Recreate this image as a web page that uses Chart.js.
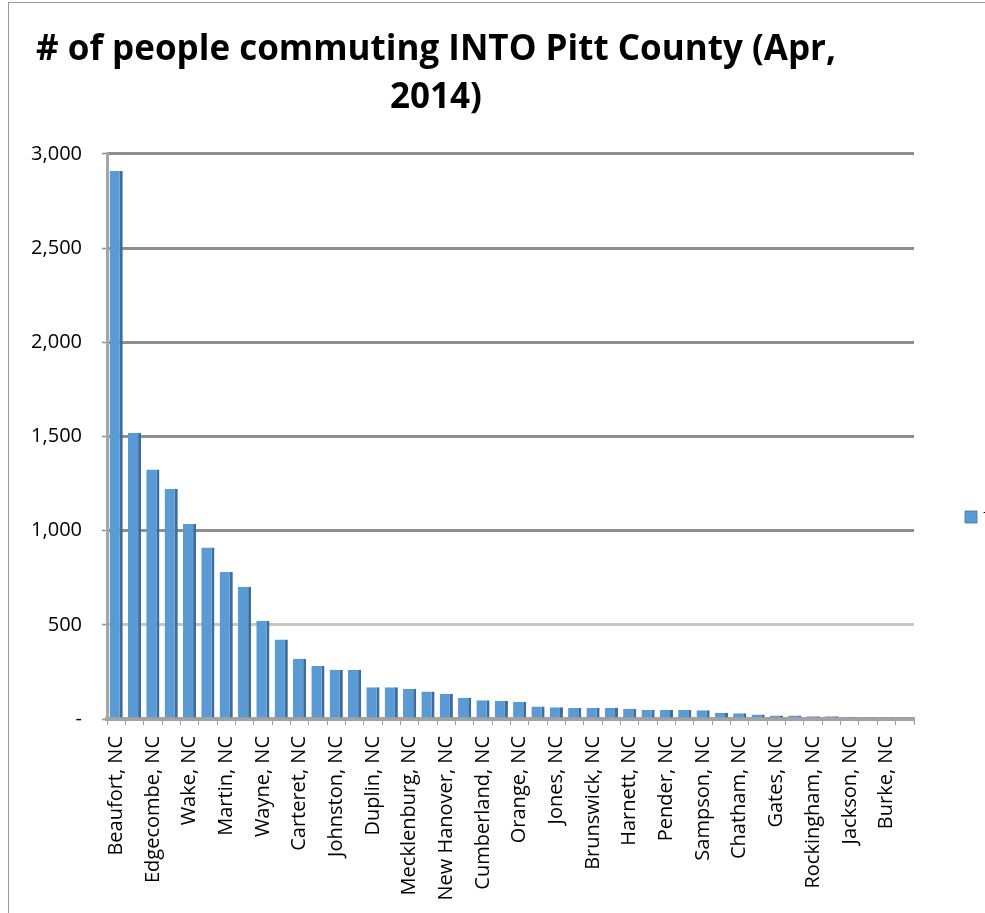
<!DOCTYPE html>
<html>
<head>
<meta charset="utf-8">
<script src="https://cdn.jsdelivr.net/npm/chart.js@4.4.1/dist/chart.umd.min.js"></script>
<style>
  html, body { margin: 0; padding: 0; background: #fff; overflow: hidden; }
  #wrap { position: relative; width: 985px; height: 913px; overflow: hidden; }
  #c { position: absolute; left: 0; top: 0; }
  #frame { position: absolute; left: 8px; top: 2px; width: 1000px; height: 1000px;
           border-left: 1px solid #9a9a9a; border-top: 1px solid #9a9a9a; pointer-events: none; }
</style>
</head>
<body>
<div id="wrap">
  <canvas id="c" width="985" height="913"></canvas>
  <div id="frame"></div>
</div>
<script>
// ---- data ----
const titleLines = ['# of people commuting INTO Pitt County (Apr,', '2014)'];
const seriesName = 'Total';
const counties = [
  'Beaufort, NC', 'Greene, NC', 'Edgecombe, NC', 'Lenoir, NC', 'Wake, NC',
  'Craven, NC', 'Martin, NC', 'Wilson, NC', 'Wayne, NC', 'Nash, NC',
  'Carteret, NC', 'Onslow, NC', 'Johnston, NC', 'Halifax, NC', 'Duplin, NC',
  'Washington, NC', 'Mecklenburg, NC', 'Durham, NC', 'New Hanover, NC', 'Guilford, NC',
  'Cumberland, NC', 'Bertie, NC', 'Orange, NC', 'Hyde, NC', 'Jones, NC',
  'Forsyth, NC', 'Brunswick, NC', 'Hertford, NC', 'Harnett, NC', 'Pamlico, NC',
  'Pender, NC', 'Dare, NC', 'Sampson, NC', 'Robeson, NC', 'Chatham, NC',
  'Franklin, NC', 'Gates, NC', 'Northampton, NC', 'Rockingham, NC', 'Alamance, NC',
  'Jackson, NC', 'Tyrrell, NC', 'Burke, NC', 'Moore, NC'
];
const commuters = [
  2910, 1520, 1325, 1222, 1035, 911, 780, 702, 521, 422,
  320, 281, 261, 261, 168, 168, 160, 146, 134, 113,
  99, 97, 91, 67, 63, 58, 58, 58, 54, 48,
  48, 48, 46, 33, 31, 24, 19, 19, 15, 14,
  12, 11, 10, 10
];
const yTicks = [0, 500, 1000, 1500, 2000, 2500, 3000];

// ---- positioning helper plugin ----
const placeBoxes = {
  id: 'placeBoxes',
  afterLayout(chart) {
    const t = chart.titleBlock;
    if (t) { t.left = 35; t.right = 837; }
    const lg = chart.legend;
    if (lg) {
      lg.left = 955; lg.right = 1100;
      lg.top = 500.5; lg.bottom = 560;
    }
  }
};

new Chart(document.getElementById('c'), {
  type: 'bar',
  data: {
    labels: counties,
    datasets: [{
      label: seriesName,
      data: commuters,
      backgroundColor: '#5b9bd5',
      borderColor: '#3d6d9a',
      borderWidth: { top: 0, right: 3, bottom: 0, left: 0 },
      borderSkipped: false,
      categoryPercentage: 1.0,
      barPercentage: 0.72
    }]
  },
  options: {
    responsive: false,
    animation: false,
    devicePixelRatio: 1,
    layout: { padding: { left: 0, right: 71, top: 0, bottom: 0 } },
    plugins: {
      title: {
        display: true,
        text: titleLines,
        color: '#000',
        align: 'center',
        font: { family: "'Open Sans', sans-serif", size: 35, weight: 'bold', lineHeight: 1.371 },
        padding: { top: 26, bottom: 32 }
      },
      legend: {
        display: true,
        position: 'chartArea',
        align: 'start',
        labels: {
          boxWidth: 12, boxHeight: 12, padding: 10,
          color: '#000',
          font: { family: "'Open Sans', sans-serif", size: 13 }
        }
      },
      tooltip: { enabled: false }
    },
    scales: {
      x: {
        grid: {
          display: true, offset: true, drawOnChartArea: false, drawTicks: true,
          tickLength: 6, color: '#9a9a9a', lineWidth: 1
        },
        border: { display: true, color: '#a3a3a3', width: 4 },
        ticks: {
          autoSkip: false, maxRotation: 90, minRotation: 90, padding: 11,
          color: '#000',
          font: { family: "'Open Sans', sans-serif", size: 20 },
          callback: function (v, i) { return i % 2 === 0 ? counties[i] : ''; }
        },
        afterFit(scale) { scale.height = 194; }
      },
      y: {
        min: 0, max: 3000,
        afterBuildTicks(scale) { scale.ticks = yTicks.map(v => ({ value: v })); },
        grid: {
          color: ctx => (ctx.tick && ctx.tick.value === 500) ? '#c6c6c6' : '#8e8e8e',
          lineWidth: 3,
          tickLength: 5, tickColor: '#8e8e8e', tickWidth: 1.5
        },
        border: { display: true, color: '#a6a6a6', width: 3 },
        ticks: {
          padding: 20, color: '#000',
          font: { family: "'Open Sans', sans-serif", size: 20 },
          callback: v => v === 0 ? '-' : v.toLocaleString('en-US')
        },
        afterFit(scale) { scale.width = 107; }
      }
    }
  },
  plugins: [placeBoxes]
});
</script>
</body>
</html>
